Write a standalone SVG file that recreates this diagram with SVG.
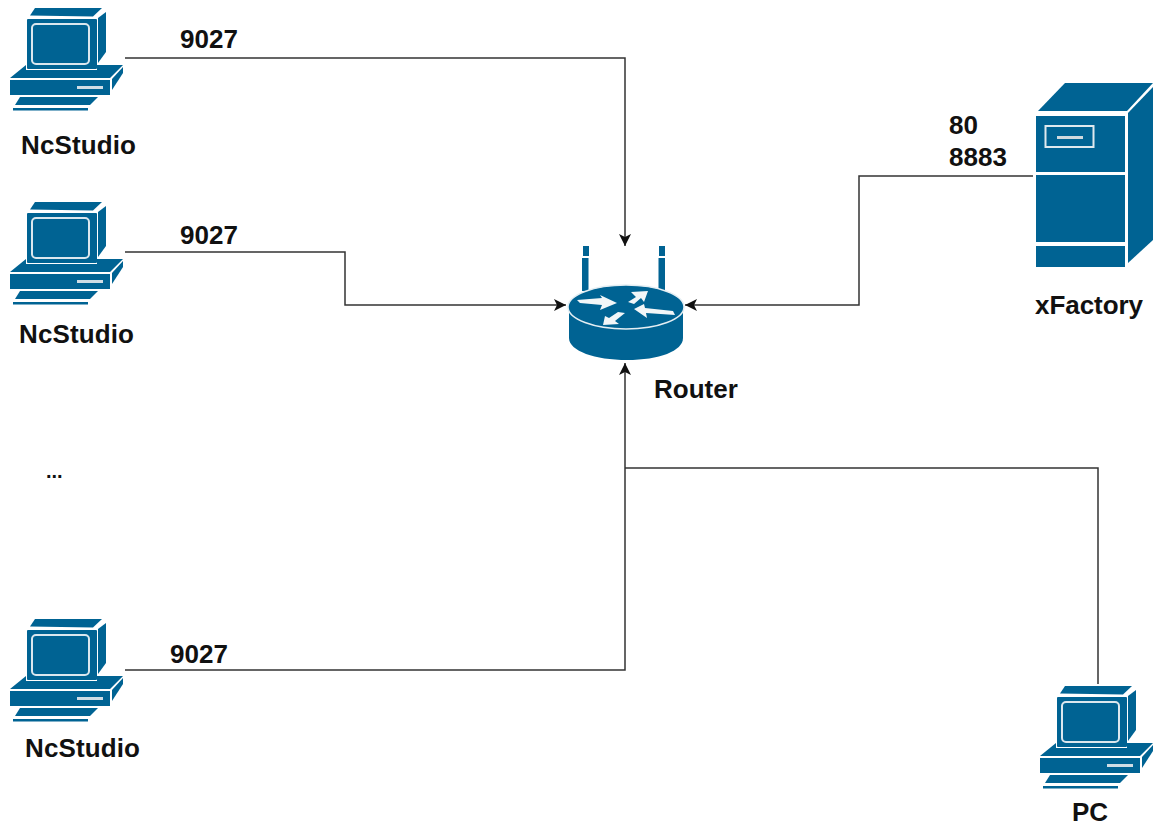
<svg xmlns="http://www.w3.org/2000/svg" width="1153" height="827" viewBox="0 0 1153 827">
<style>
.b{fill:#006393}
.l{fill:none;stroke:#dbe7ee;stroke-width:2}
.t{font-family:"Liberation Sans",Arial,sans-serif;font-size:26px;font-weight:700;fill:#111}
.c{fill:none;stroke:#333;stroke-width:1.5}
</style>
<defs>
<marker id="a" markerUnits="userSpaceOnUse" markerWidth="14" markerHeight="14" refX="12" refY="7" orient="auto"><path d="M0 1L12 7L0 13L3 7Z" fill="#111"/></marker>
<g id="pc">
<path class="b" d="M35 8H102L93 16.500L30 15.500Z"/>
<path class="b" d="M98 18L106 12V52L98 63Z"/>
<rect class="b" x="27" y="19" width="70" height="50" rx="1"/>
<rect class="l" x="32" y="24" width="57" height="40" rx="4"/>
<path class="b" d="M26 65L10 78H110L123 65H97V70H26Z"/>
<rect class="b" x="10" y="80" width="100" height="15"/>
<rect x="77" y="86" width="26" height="3" fill="#cfdde5"/>
<path class="b" d="M112 79L123 67V73L112 90Z"/>
<path class="b" d="M20 97H98L90 105H15Z"/>
<path class="b" d="M13 108L88 108V110.500H13Z"/>
</g>
</defs>
<rect width="1153" height="827" fill="#fff"/>
<g id="connectors">
<path class="c" d="M125 58H625V246" marker-end="url(#a)"/>
<path class="c" d="M125 252H345V305H566" marker-end="url(#a)"/>
<path class="c" d="M125 670H625V363" marker-end="url(#a)"/>
<path class="c" d="M1098 684V468H625"/>
<path class="c" d="M1033 176H859V305H685" marker-end="url(#a)"/>
</g>
<g id="nc1"><use href="#pc"/><text class="t" x="21" y="154" textLength="115">NcStudio</text></g>
<g id="nc2"><use href="#pc" y="194"/><text class="t" x="19" y="343" textLength="115">NcStudio</text></g>
<g id="nc3"><use href="#pc" y="611"/><text class="t" x="25" y="757" textLength="115">NcStudio</text></g>
<g id="pc1"><use href="#pc" x="1030" y="678"/><text class="t" x="1072" y="821">PC</text></g>
<g id="router">
<rect class="b" x="583" y="246" width="6" height="10"/><rect class="b" x="659" y="246" width="6" height="10"/>
<path class="b" d="M582 258H588.500V291H582ZM658.500 258H665V291H658.500Z"/>
<path class="b" d="M569 308V338C569 351 595 360 627 360C659 360 683 351 683 338V308Z"/>
<ellipse cx="626" cy="307" rx="58" ry="22" class="b" stroke="#e4eef3" stroke-width="1.500"/>
<path d="M577 300L602 298L600 295L617 303L600 310L602 305L580 303ZM631 292L648 291L644 302L641 298L634 304L628 302L636 297ZM634 309L644 304L645 308L673 311L675 315L646 313L647 318ZM603 325L605 316L609 318L618 312L625 313L615 321L619 324Z" fill="#f2f6f8"/>
</g>
<g id="xfactory">
<path class="b" d="M1065 83H1153L1127 111H1038Z"/>
<path class="b" d="M1128 113L1153 87V240L1128 263Z"/>
<rect class="b" x="1036" y="116" width="89" height="56"/>
<rect class="b" x="1036" y="175" width="89" height="67"/>
<rect class="b" x="1036" y="246" width="89" height="21"/>
<rect x="1045.500" y="126" width="48" height="21" fill="none" stroke="#dfe9ee" stroke-width="2"/>
<rect x="1057" y="136" width="26" height="3" fill="#cfd9de"/>
<text class="t" x="1035" y="314" textLength="108">xFactory</text>
</g>
<g id="labels">
<text class="t" x="180" y="48">9027</text>
<text class="t" x="180" y="244">9027</text>
<text class="t" x="170" y="663">9027</text>
<text class="t" x="949" y="134">80</text>
<text class="t" x="949" y="166">8883</text>
<text class="t" x="654" y="398">Router</text>
<text class="t" x="46" y="478" style="font-size:20px">...</text>
</g>
</svg>
